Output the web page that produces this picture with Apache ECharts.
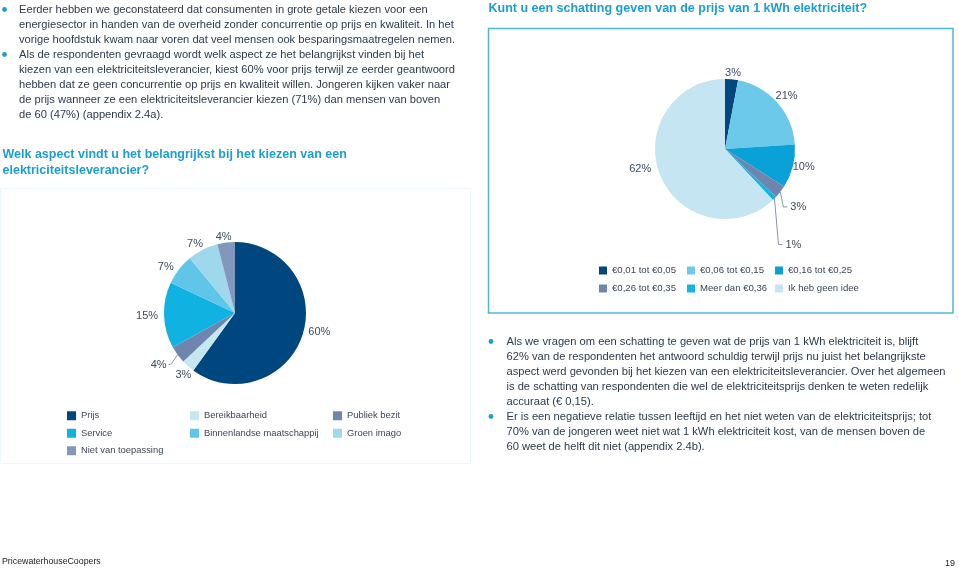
<!DOCTYPE html>
<html><head><meta charset="utf-8">
<script src="https://cdn.jsdelivr.net/npm/echarts@6/dist/echarts.min.js"></script>
<style>html,body{margin:0;padding:0;background:#fff}#c{width:959px;height:572px}</style>
</head><body><div id="c"></div>
<script>
// ---- data ----
const aspectCategories = ['Prijs','Bereikbaarheid','Publiek bezit','Service','Binnenlandse maatschappij','Groen imago','Niet van toepassing'];
const aspectValues = [60, 3, 4, 15, 7, 7, 4];
const priceCategories = ['€0,01 tot €0,05','€0,06 tot €0,15','€0,16 tot €0,25','€0,26 tot €0,35','Meer dan €0,36','Ik heb geen idee'];
const priceValues = [3, 21, 10, 3, 1, 62];

const titleLeft = ['Welk aspect vindt u het belangrijkst bij het kiezen van een', 'elektriciteitsleverancier?'];
const titleRight = ['Kunt u een schatting geven van de prijs van 1 kWh elektriciteit?'];
const textLeft1 = ['Eerder hebben we geconstateerd dat consumenten in grote getale kiezen voor een',
 'energiesector in handen van de overheid zonder concurrentie op prijs en kwaliteit. In het',
 'vorige hoofdstuk kwam naar voren dat veel mensen ook besparingsmaatregelen nemen.'];
const textLeft2 = ['Als de respondenten gevraagd wordt welk aspect ze het belangrijkst vinden bij het',
 'kiezen van een elektriciteitsleverancier, kiest 60% voor prijs terwijl ze eerder geantwoord',
 'hebben dat ze geen concurrentie op prijs en kwaliteit willen. Jongeren kijken vaker naar',
 'de prijs wanneer ze een elektriciteitsleverancier kiezen (71%) dan mensen van boven',
 'de 60 (47%) (appendix 2.4a).'];
const textRight1 = ['Als we vragen om een schatting te geven wat de prijs van 1 kWh elektriciteit is, blijft',
 '62% van de respondenten het antwoord schuldig terwijl prijs nu juist het belangrijkste',
 'aspect werd gevonden bij het kiezen van een elektriciteitsleverancier. Over het algemeen',
 'is de schatting van respondenten die wel de elektriciteitsprijs denken te weten redelijk',
 'accuraat (€ 0,15).'];
const textRight2 = ['Er is een negatieve relatie tussen leeftijd en het niet weten van de elektriciteitsprijs; tot',
 '70% van de jongeren weet niet wat 1 kWh elektriciteit kost, van de mensen boven de',
 '60 weet de helft dit niet (appendix 2.4b).'];
const footerLeft = 'PricewaterhouseCoopers';
const footerRight = '19';

// ---- styles ----
const aspectColors = ['#00467f','#c6e6f2','#6e86ad','#10b2e2','#5fc6e9','#9fd7ed','#8197bc'];
const priceColors = ['#00467f','#6dc9ea','#0aa1d8','#6e86ad','#12b4e4','#c6e5f2'];
// small label nudges (dx, dy) per slice
const aspectLabelNudge = [[0, -4], [8, 6], [0, 0], [0, 1], [0, 0], [4, -2], [8, -2]];
const priceLabelNudge = [[-1, -2], [-7, -4], [-6, 0], [0, 0], [0, 0], [-3, -7]];
const FONT = '"Liberation Sans", Arial, Helvetica, sans-serif';
const bodyColor = '#2c3a4b';
const accent = '#1c9fcf';
const labelColor = '#3d4b5e';

const chart = echarts.init(document.getElementById('c'), null, {renderer: 'canvas'});

function para(lines, x, yTop, size, weight, color, lh) {
  return {type: 'text', silent: true, style: {x: x, y: yTop, text: lines.join('\n'),
    font: (weight || 'normal') + ' ' + size + 'px ' + FONT, fill: color, lineHeight: lh, verticalAlign: 'top', align: 'left'}};
}
function bullet(x, y) {
  return {type: 'circle', silent: true, shape: {cx: x, cy: y, r: 2.4}, style: {fill: accent}};
}

const graphics = [
  {type: 'rect', silent: true, shape: {x: 488.5, y: 28.5, width: 464.5, height: 284.5}, style: {fill: null, stroke: '#4fb6d8', lineWidth: 1.5}},
  {type: 'rect', silent: true, shape: {x: 0.5, y: 188.5, width: 470, height: 275}, style: {fill: null, stroke: '#eef8fc', lineWidth: 1}},
  para(textLeft1, 19, 2.5, 11.15, 'normal', bodyColor, 15),
  para(textLeft2, 19, 47.5, 11.15, 'normal', bodyColor, 15),
  bullet(4.5, 9.5), bullet(4.5, 54.5),
  para(textRight1, 506.5, 334.5, 11.15, 'normal', bodyColor, 15),
  para(textRight2, 506.5, 409.5, 11.15, 'normal', bodyColor, 15),
  bullet(491, 341.5), bullet(491, 416.5),
  para(titleLeft, 2.5, 147, 12.5, 'bold', accent, 16),
  para(titleRight, 488.5, 0.5, 12.5, 'bold', accent, 16),
  {type: 'text', silent: true, style: {x: 2, y: 562, text: footerLeft, font: '8.8px ' + FONT, fill: '#222', verticalAlign: 'middle'}},
  {type: 'text', silent: true, style: {x: 955, y: 564, text: footerRight, font: '9px ' + FONT, fill: '#222', verticalAlign: 'middle', align: 'right'}}
];

function legendCol(names, left, top, iw, fs) {
  return {data: names, orient: 'vertical', left: left, top: top, padding: 0, itemGap: 8,
    itemWidth: iw, itemHeight: iw, icon: 'rect', selectedMode: false,
    textStyle: {fontFamily: FONT, fontSize: fs, color: '#3a4656', lineHeight: 9.5}};
}

const option = {
  animation: false,
  color: aspectColors.concat(priceColors),
  legend: [
    legendCol([aspectCategories[0], aspectCategories[3], aspectCategories[6]], 67, 411, 9, 9.4),
    legendCol([aspectCategories[1], aspectCategories[4]], 190, 411, 9, 9.4),
    legendCol([aspectCategories[2], aspectCategories[5]], 333, 411, 9, 9.4),
    legendCol([priceCategories[0], priceCategories[3]], 599, 265.5, 8, 9.6),
    legendCol([priceCategories[1], priceCategories[4]], 687, 265.5, 8, 9.6),
    legendCol([priceCategories[2], priceCategories[5]], 775, 265.5, 8, 9.6)
  ],
  graphic: graphics,
  series: [
    {
      type: 'pie', center: [235, 313], radius: [0, 71], startAngle: 90, clockwise: true,
      avoidLabelOverlap: false, silent: true,
      label: {show: true, position: 'outside', formatter: '{c}%', fontFamily: FONT, fontSize: 11, color: labelColor, distanceToLabelLine: 2},
      labelLine: {show: false, length: 4, length2: 0, lineStyle: {color: '#6b7a8c', width: 0.8}},
      itemStyle: {borderWidth: 0},
      data: aspectCategories.map((n, i) => {
        const d = {name: n, value: aspectValues[i], itemStyle: {color: aspectColors[i]}};
        if (i === 2) d.labelLine = {show: true, length: 10, length2: 4};
        return d;
      }),
      labelLayout: function (p) {
        if (p.dataIndex === 2 && p.labelLinePoints) {
          const s = p.labelLinePoints[0];
          const pts = [[s[0], s[1]], [s[0] - 6, s[1] + 9], [s[0] - 9, s[1] + 10]];
          return {x: s[0] - 11, y: s[1] + 10, labelLinePoints: pts};
        }
        const n = aspectLabelNudge[p.dataIndex];
        return {dx: n[0], dy: n[1]};
      }
    },
    {
      type: 'pie', center: [725, 149], radius: [0, 70], startAngle: 90, clockwise: true,
      avoidLabelOverlap: false, silent: true,
      label: {show: true, position: 'outside', formatter: '{c}%', fontFamily: FONT, fontSize: 11, color: labelColor, distanceToLabelLine: 2},
      labelLine: {show: false, length: 4, length2: 0, lineStyle: {color: '#6b7a8c', width: 0.8}},
      itemStyle: {borderWidth: 0},
      data: priceCategories.map((n, i) => {
        const d = {name: n, value: priceValues[i], itemStyle: {color: priceColors[i]}};
        if (i === 3 || i === 4) d.labelLine = {show: true, length: 6, length2: 4};
        return d;
      }),
      labelLayout: function (p) {
        if ((p.dataIndex === 3 || p.dataIndex === 4) && p.labelLinePoints) {
          const s = p.labelLinePoints[0];
          const drop = p.dataIndex === 3 ? 15 : 46;
          const bend = p.dataIndex === 3 ? 3 : 4;
          const pts = [[s[0], s[1]], [s[0] + bend, s[1] + drop], [s[0] + bend + 4, s[1] + drop]];
          return {x: s[0] + bend + 7, y: s[1] + drop, labelLinePoints: pts};
        }
        const n = priceLabelNudge[p.dataIndex];
        const r = {dx: n[0], dy: n[1]};
        if (p.dataIndex === 0) r.align = 'center';
        return r;
      }
    }
  ]
};
chart.setOption(option);
</script>
</body></html>
